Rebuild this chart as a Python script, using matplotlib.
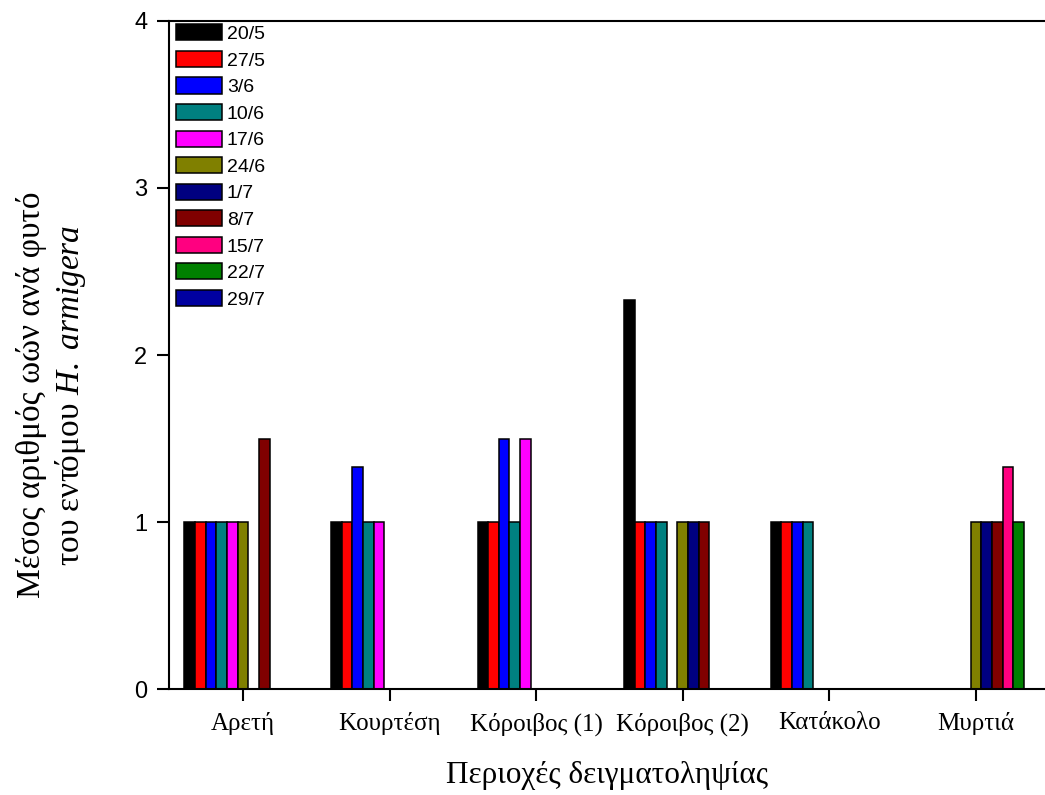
import numpy as np
import matplotlib
matplotlib.use("Agg")
import matplotlib.pyplot as plt

# ── Data ──────────────────────────────────────────────────────────────────────
sites = ["Αρετή", "Κουρτέση", "Κόροιβος (1)", "Κόροιβος (2)", "Κατάκολο", "Μυρτιά"]
dates = ["20/5", "27/5", "3/6", "10/6", "17/6", "24/6",
         "1/7", "8/7", "15/7", "22/7", "29/7"]
colors = ["#000000", "#FF0000", "#0000FF", "#008080", "#FF00FF", "#808000",
          "#000080", "#800000", "#FF0080", "#008000", "#0000A0"]

# one row per sampling date, one column per site
eggs = np.array([
    # Αρετή Κουρτ. Κόρ1  Κόρ2  Κατάκ. Μυρτιά
    [1.00, 1.00, 1.00, 2.33, 1.00, 0.00],   # 20/5
    [1.00, 1.00, 1.00, 1.00, 1.00, 0.00],   # 27/5
    [1.00, 1.33, 1.50, 1.00, 1.00, 0.00],   # 3/6
    [1.00, 1.00, 1.00, 1.00, 1.00, 0.00],   # 10/6
    [1.00, 1.00, 1.50, 0.00, 0.00, 0.00],   # 17/6
    [1.00, 0.00, 0.00, 1.00, 0.00, 1.00],   # 24/6
    [0.00, 0.00, 0.00, 1.00, 0.00, 1.00],   # 1/7
    [1.50, 0.00, 0.00, 1.00, 0.00, 1.00],   # 8/7
    [0.00, 0.00, 0.00, 0.00, 0.00, 1.33],   # 15/7
    [0.00, 0.00, 0.00, 0.00, 0.00, 1.00],   # 22/7
    [0.00, 0.00, 0.00, 0.00, 0.00, 0.00],   # 29/7
])

# ── Figure ────────────────────────────────────────────────────────────────────
plt.rcParams["mathtext.fontset"] = "custom"
plt.rcParams["mathtext.rm"] = "Liberation Serif"
plt.rcParams["mathtext.it"] = "Liberation Serif:italic"

fig = plt.figure(figsize=(10.45, 7.95), dpi=100)
ax = fig.add_axes([0.1617, 0.1333, 0.8383, 0.8403])

x = np.arange(len(sites))
n = len(dates)
w = 0.8 / n
for i, (lab, col) in enumerate(zip(dates, colors)):
    ax.bar(x - 0.4 + w * (i + 0.5), eggs[i], width=w, color=col,
           edgecolor="black", linewidth=1.1, label=lab)

ax.set_xlim(-0.504, 5.47)
ax.set_ylim(0, 4)
ax.set_yticks([0, 1, 2, 3, 4])
ax.set_xticks(x)
ax.set_xticklabels(sites, family="Liberation Serif", fontsize=18)
for t in ax.get_yticklabels():
    t.set_family("Liberation Sans")
    t.set_fontsize(17)
ax.tick_params(direction="out", length=8.6, width=1.5)
ax.tick_params(axis="y", pad=7)
ax.tick_params(axis="x", pad=8)

for s in ["left", "bottom", "top"]:
    ax.spines[s].set_linewidth(1.5)
ax.spines["right"].set_visible(False)

ax.set_xlabel("Περιοχές δειγματοληψίας", family="Liberation Serif",
              fontsize=22.5, labelpad=18)
fig.text(52 / 1045, 1 - 395 / 795,
         "Μέσος αριθμός ωών ανά φυτό\nτου εντόμου $\\mathit{H.\\ armigera}$",
         family="Liberation Serif", fontsize=24, rotation=90,
         ha="center", va="center", multialignment="center", linespacing=1.2)

leg = ax.legend(loc="upper left", bbox_to_anchor=(0.008, 0.995), frameon=False,
                prop={"family": "Liberation Sans", "size": 14},
                handlelength=2.37, handleheight=0.9, labelspacing=0.4,
                handletextpad=0.25, borderaxespad=0, borderpad=0)

fig.savefig("out.png", dpi=100)
